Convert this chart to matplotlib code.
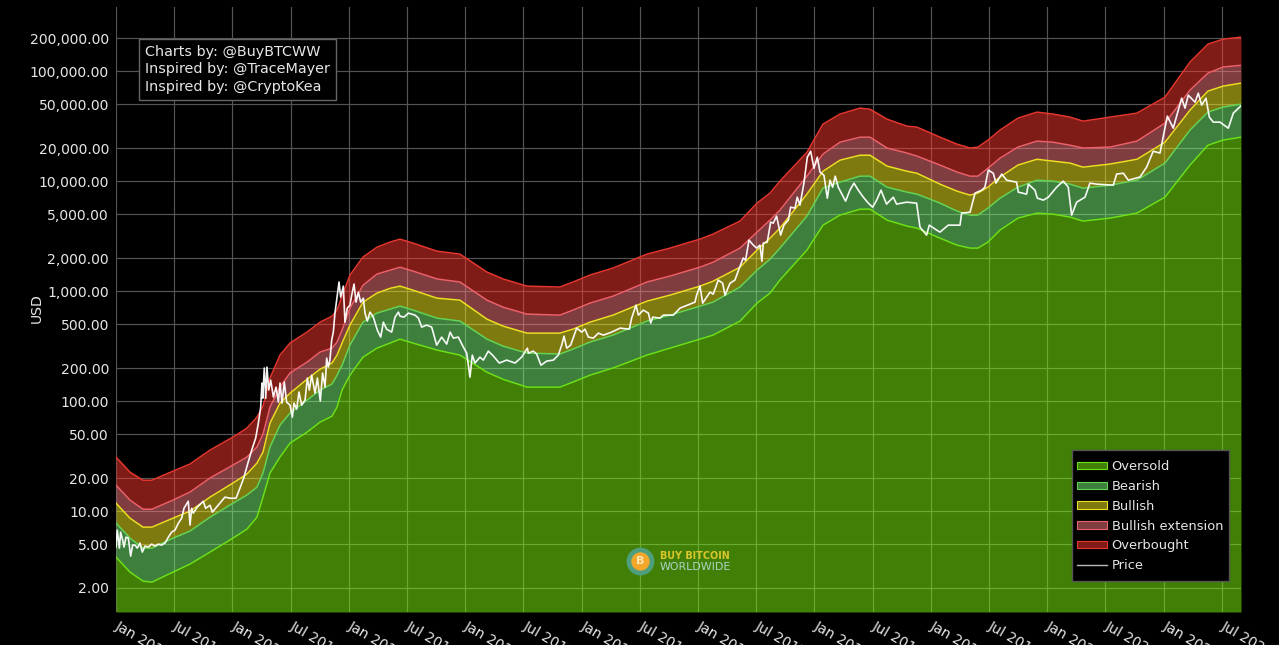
import matplotlib
matplotlib.use('Agg')
import matplotlib.pyplot as plt
from matplotlib.patches import Patch, Rectangle
from matplotlib.lines import Line2D
from matplotlib.transforms import ScaledTranslation

# band curves (USD)
band_years = [2012.0, 2012.12, 2012.232, 2012.309, 2012.49, 2012.636, 2012.808, 2013.005, 2013.125, 2013.211, 2013.263, 2013.323, 2013.409, 2013.495, 2013.641, 2013.753, 2013.856, 2013.899, 2013.942, 2014.01, 2014.122, 2014.242, 2014.354, 2014.44, 2014.552, 2014.758, 2014.955, 2015.187, 2015.325, 2015.531, 2015.814, 2015.926, 2016.072, 2016.27, 2016.562, 2016.759, 2017.017, 2017.129, 2017.361, 2017.507, 2017.619, 2017.704, 2017.936, 2018.074, 2018.22, 2018.392, 2018.478, 2018.624, 2018.796, 2018.881, 2019.079, 2019.225, 2019.337, 2019.405, 2019.491, 2019.595, 2019.749, 2019.912, 2020.05, 2020.196, 2020.308, 2020.54, 2020.771, 2021.012, 2021.227, 2021.381, 2021.51, 2021.665]
overbought = [31.0, 22.6, 19.1, 19.1, 23.1, 26.8, 35.9, 47.1, 56.8, 71.5, 90, 162, 262, 337, 424, 522, 592, 672, 900, 1400, 2040, 2510, 2790, 2970, 2730, 2310, 2170, 1490, 1290, 1110, 1090, 1210, 1400, 1620, 2170, 2460, 2970, 3300, 4330, 6310, 7780, 10000, 18300, 33000, 40700, 46100, 45100, 36600, 31600, 31000, 25100, 21700, 20000, 20400, 23600, 29100, 37400, 42400, 40700, 38200, 35100, 38200, 41500, 58000, 121000, 176000, 195000, 204000]
extension = [17.2, 12.6, 10.4, 10.4, 12.6, 14.9, 20.0, 26.2, 31.0, 38.2, 50.1, 88.1, 134, 180, 226, 279, 303, 344, 442, 700, 1130, 1430, 1550, 1650, 1520, 1290, 1210, 828, 715, 618, 605, 672, 778, 900, 1210, 1370, 1650, 1830, 2460, 3440, 4420, 5450, 11100, 17600, 22600, 25100, 25100, 20000, 18000, 16900, 14000, 12100, 11100, 11100, 13100, 16200, 20400, 23100, 22600, 21200, 20000, 20400, 23100, 33700, 67200, 95900, 109000, 113000]
bullish = [11.8, 8.63, 7.15, 7.15, 8.63, 10.0, 13.4, 18.0, 21.7, 27.3, 34.4, 63.1, 95.9, 118, 158, 195, 222, 262, 337, 491, 794, 959, 1060, 1110, 1020, 863, 828, 556, 481, 415, 415, 451, 522, 605, 811, 919, 1110, 1230, 1650, 2360, 3030, 3740, 7620, 12300, 15500, 17200, 17200, 13700, 12300, 11800, 9390, 8110, 7460, 7780, 8810, 10900, 14000, 15800, 15200, 14600, 13400, 14300, 15800, 22600, 44200, 65800, 73000, 77800]
bearish = [7.78, 5.68, 4.61, 4.61, 5.68, 6.58, 8.81, 11.8, 14.0, 16.5, 22.2, 38.2, 60.5, 77.8, 102, 126, 143, 172, 212, 323, 522, 631, 686, 730, 672, 568, 534, 366, 316, 273, 268, 297, 344, 398, 534, 605, 730, 794, 1090, 1550, 1950, 2460, 4810, 8630, 9790, 11100, 11100, 8810, 7940, 7620, 6310, 5340, 4910, 4910, 5680, 7000, 8810, 10200, 10000, 9390, 8630, 9190, 10200, 14600, 29100, 42400, 47100, 50100]
oversold = [3.82, 2.79, 2.31, 2.26, 2.79, 3.30, 4.24, 5.68, 6.86, 8.81, 13.4, 22.2, 31.0, 41.5, 52.2, 64.4, 73.0, 88.1, 126, 172, 251, 303, 337, 366, 337, 291, 262, 183, 158, 134, 134, 149, 172, 200, 262, 303, 366, 398, 534, 778, 959, 1260, 2360, 3980, 4910, 5560, 5560, 4420, 3900, 3740, 3030, 2620, 2460, 2460, 2790, 3590, 4610, 5120, 5010, 4710, 4330, 4610, 5120, 7150, 14000, 21200, 23600, 25100]

# price (USD)
price_years = [2012.0, 2012.011, 2012.029, 2012.04, 2012.057, 2012.069, 2012.086, 2012.106, 2012.126, 2012.143, 2012.163, 2012.183, 2012.206, 2012.226, 2012.249, 2012.278, 2012.306, 2012.335, 2012.364, 2012.392, 2012.421, 2012.45, 2012.478, 2012.507, 2012.536, 2012.564, 2012.584, 2012.621, 2012.636, 2012.65, 2012.664, 2012.699, 2012.75, 2012.77, 2012.808, 2012.828, 2012.865, 2012.936, 2012.979, 2013.031, 2013.065, 2013.1, 2013.128, 2013.166, 2013.2, 2013.223, 2013.243, 2013.254, 2013.26, 2013.274, 2013.286, 2013.297, 2013.312, 2013.329, 2013.352, 2013.375, 2013.395, 2013.409, 2013.426, 2013.446, 2013.466, 2013.495, 2013.515, 2013.529, 2013.552, 2013.572, 2013.595, 2013.624, 2013.644, 2013.661, 2013.681, 2013.71, 2013.73, 2013.755, 2013.775, 2013.796, 2013.81, 2013.824, 2013.838, 2013.853, 2013.867, 2013.881, 2013.896, 2013.916, 2013.93, 2013.953, 2013.967, 2013.987, 2014.01, 2014.025, 2014.045, 2014.062, 2014.082, 2014.102, 2014.125, 2014.139, 2014.159, 2014.182, 2014.211, 2014.245, 2014.274, 2014.297, 2014.325, 2014.368, 2014.397, 2014.426,
               2014.44, 2014.474, 2014.512, 2014.569, 2014.598, 2014.626, 2014.669, 2014.712, 2014.755, 2014.798, 2014.841, 2014.87, 2014.898, 2014.941, 2014.984, 2015.013, 2015.041, 2015.061, 2015.084, 2015.127, 2015.156, 2015.199, 2015.242, 2015.293, 2015.356, 2015.428, 2015.485, 2015.534, 2015.543, 2015.585, 2015.614, 2015.651, 2015.7, 2015.757, 2015.8, 2015.829, 2015.849, 2015.872, 2015.906, 2015.958, 2016.001, 2016.029, 2016.058, 2016.101, 2016.144, 2016.187, 2016.258, 2016.33, 2016.41, 2016.43, 2016.467, 2016.488, 2016.53, 2016.574, 2016.594, 2016.611, 2016.674, 2016.702, 2016.788,
               2016.845, 2016.931, 2016.974, 2016.988, 2017.017, 2017.04, 2017.074, 2017.103, 2017.131, 2017.174, 2017.212, 2017.232, 2017.275, 2017.317, 2017.355, 2017.389, 2017.409, 2017.438, 2017.475, 2017.504, 2017.532, 2017.549, 2017.561, 2017.595, 2017.624, 2017.647, 2017.675, 2017.71, 2017.738, 2017.776, 2017.796, 2017.833, 2017.853, 2017.876, 2017.91, 2017.939, 2017.968, 2017.996, 2018.025, 2018.048, 2018.082, 2018.111, 2018.134, 2018.157, 2018.179, 2018.205, 2018.268, 2018.305, 2018.34, 2018.377, 2018.42, 2018.463, 2018.5, 2018.535, 2018.572, 2018.62, 2018.678, 2018.706, 2018.792, 2018.878, 2018.907, 2018.964, 2018.987, 2019.05, 2019.079,
               2019.15, 2019.251, 2019.265, 2019.337, 2019.38, 2019.437, 2019.465, 2019.494, 2019.537, 2019.56, 2019.609, 2019.652, 2019.737, 2019.752, 2019.823, 2019.838, 2019.895, 2019.915, 2019.967, 2020.01, 2020.081, 2020.138, 2020.181, 2020.21, 2020.253, 2020.325, 2020.367, 2020.425, 2020.568, 2020.597, 2020.654, 2020.697, 2020.797, 2020.854, 2020.911, 2020.969, 2021.032, 2021.083, 2021.155, 2021.184, 2021.212, 2021.27, 2021.298, 2021.327, 2021.364, 2021.393, 2021.427, 2021.484, 2021.556, 2021.599, 2021.662]
price = [4.71, 6.72, 4.61, 6.44, 5.45, 4.71, 5.80, 5.68, 3.90, 4.91, 4.91, 4.61, 5.12, 4.24, 4.81, 4.71, 5.01, 4.81, 5.01, 4.91, 5.12, 5.80, 6.44, 6.72, 7.78, 8.63, 10.6, 12.3, 7.46, 10.6, 9.59, 10.9, 12.3, 10.6, 11.3, 9.79, 10.9, 13.4, 13.1, 13.1, 16.2, 20.4, 26.2, 35.9, 46.1, 63.1, 88.1, 146, 106, 200, 106, 204, 126, 155, 109, 134, 97.9, 146, 95.9, 149, 97.9, 91.9, 71.5, 95.9, 84.5, 121, 91.9, 102, 162, 126, 172, 118, 162, 100, 180, 134, 246, 204, 236, 359, 424, 631, 828, 1210, 881, 1110, 522, 700, 746, 919, 1160, 794, 978, 794, 863, 631, 534, 644, 580, 442, 382, 522, 451, 424, 580, 644,
         592, 580, 631, 605, 568, 471, 491, 471, 323, 382, 330, 424, 374, 382, 310, 273, 165, 262, 222, 251, 236, 285, 257, 222, 236, 222, 251, 303, 273, 285, 268, 212, 231, 236, 262, 323, 390, 303, 323, 461, 424, 451, 382, 374, 415, 398, 424, 461, 451, 568, 746, 605, 672, 631, 512, 580, 568, 605, 605,
         700, 762, 794, 919, 1110, 778, 881, 978, 939, 1260, 1180, 919, 1180, 1260, 1620, 2000, 1910, 2910, 2620, 2460, 2620, 1870, 2730, 2790, 4240, 4150, 4810, 3230, 3980, 4420, 5800, 5680, 7150, 6050, 9590, 16500, 18700, 13100, 16500, 12100, 11300, 7000, 10200, 8810, 11100, 8810, 6580, 8280, 9590, 8280, 7150, 6310, 5800, 6720, 8280, 6180, 7150, 6180, 6440, 6310, 3820, 3230, 3980, 3590, 3440,
         3980, 3980, 5120, 5220, 7780, 8280, 8810, 12600, 11800, 9590, 11600, 10200, 9790, 7940, 7620, 9390, 8280, 7000, 6720, 7150, 8810, 10000, 8810, 4910, 6440, 7150, 9590, 9390, 9190, 11600, 11800, 10200, 10900, 13400, 18700, 18000, 39000, 30300, 56800, 46100, 60500, 52200, 63100, 49100, 56800, 38200, 34400, 34400, 30300, 41500, 48100]

y_ticks = [2, 5, 10, 20, 50, 100, 200, 500, 1000, 2000, 5000, 10000, 20000, 50000, 100000, 200000]
x_ticks = [2012 + i * 0.5 for i in range(20)]
x_labels = ['Jan 2012', 'Jul 2012', 'Jan 2013', 'Jul 2013', 'Jan 2014', 'Jul 2014', 'Jan 2015', 'Jul 2015', 'Jan 2016', 'Jul 2016',
            'Jan 2017', 'Jul 2017', 'Jan 2018', 'Jul 2018', 'Jan 2019', 'Jul 2019', 'Jan 2020', 'Jul 2020', 'Jan 2021', 'Jul 2021']

Y_MIN = 1.21
Y_MAX = 383000
TEXT = '#e6e6e6'

fig = plt.figure(figsize=(12.79, 6.45), dpi=100, facecolor='black')
ax = fig.add_axes([116 / 1279, 33 / 645, 1125 / 1279, 605 / 645], facecolor='black')
ax.set_yscale('log')
ax.set_xlim(2012, 2021.665)
ax.set_ylim(Y_MIN, Y_MAX)

# fills are half transparent so the grid shows through
bands = [
    ('Oversold', oversold, [Y_MIN] * len(oversold), (0.51, 1.0, 0.05), (0.42, 0.88, 0.08)),
    ('Bearish', bearish, oversold, (0.49, 1.0, 0.48), (0.38, 0.83, 0.34)),
    ('Bullish', bullish, bearish, (1.0, 0.96, 0.13), (0.92, 0.88, 0.12)),
    ('Bullish extension', extension, bullish, (1.0, 0.48, 0.50), (0.92, 0.38, 0.42)),
    ('Overbought', overbought, extension, (1.0, 0.22, 0.18), (0.90, 0.21, 0.18)),
]
handles = []
for name, top, low, fill, edge in bands:
    ax.fill_between(band_years, low, top, color=fill, alpha=0.5, linewidth=0, zorder=2)
    ax.plot(band_years, top, color=edge, linewidth=1.1, zorder=3)
    handles.append(Patch(facecolor=fill + (0.5,), edgecolor=edge, linewidth=0.8, label=name))
ax.plot(price_years, price, color='white', linewidth=1.2, alpha=0.95, zorder=4)
handles.append(Line2D([0], [0], color='#bbbbbb', linewidth=1.0, label='Price'))

ax.set_yticks(y_ticks)
ax.set_yticklabels([f'{v:,.2f}' for v in y_ticks])
ax.minorticks_off()
ax.set_xticks(x_ticks)
ax.set_xticklabels(x_labels, rotation=-30, ha='left', va='top', rotation_mode='anchor')
ax.tick_params(length=0, colors=TEXT, labelsize=10.1)
ax.tick_params(axis='y', pad=5)
ax.tick_params(axis='x', pad=5)
shift = ScaledTranslation(4 / 100, 0, fig.dpi_scale_trans)
for label in ax.get_xticklabels():
    label.set_transform(label.get_transform() + shift)
ax.grid(True, color='#555555', linewidth=0.85, zorder=1)
ax.set_axisbelow(True)
for s in ax.spines.values():
    s.set_visible(False)
ax.set_ylabel('USD', color=TEXT, fontsize=10.1)
ax.yaxis.set_label_coords(-72 / 1125, 0.503)

fig.text(145 / 1279, 1 - 45 / 645, 'Charts by: @BuyBTCWW\nInspired by: @TraceMayer\nInspired by: @CryptoKea',
         color=TEXT, fontsize=10.35, va='top', ha='left', linespacing=1.3,
         bbox=dict(boxstyle='square,pad=0.42', facecolor='black', edgecolor='#666666', linewidth=1), zorder=10)

# legend box is drawn apart, its padding differs across and down
ax.add_patch(Rectangle((1072 / 1279, 1 - 581 / 645), 157 / 1279, 131 / 645, transform=fig.transFigure,
                       facecolor='black', edgecolor='#555555', linewidth=1, clip_on=False, zorder=9))
leg = ax.legend(handles=handles, loc='lower right', bbox_to_anchor=(1229 / 1279, 1 - 578 / 645),
                bbox_transform=fig.transFigure, fontsize=9.4, frameon=False, labelcolor=TEXT,
                borderaxespad=0, borderpad=0.45, labelspacing=0.52, handlelength=2.3, handleheight=0.5,
                handletextpad=0.38)
leg.set_zorder(10)

# logo
logo_x = (640 - 116) / 1125
logo_y = (612 - 561) / 605
ax.scatter([logo_x], [logo_y], s=400, color='#4f9f7f', transform=ax.transAxes, zorder=6, linewidths=0)
ax.scatter([logo_x], [logo_y], s=175, color='#f2a62a', transform=ax.transAxes, zorder=7, linewidths=0)
ax.text(logo_x, logo_y, 'B', color='#fbe6b0', fontsize=8, fontweight='bold', ha='center', va='center',
        transform=ax.transAxes, zorder=8)
ax.text((660 - 116) / 1125, (612 - 556) / 605, 'BUY BITCOIN', color='#d8c62c', fontsize=6.9, fontweight='bold',
        ha='left', va='center', transform=ax.transAxes, zorder=6)
ax.text((660 - 116) / 1125, (612 - 567) / 605, 'WORLDWIDE', color='#a9d6c8', fontsize=7.9, ha='left', va='center',
        transform=ax.transAxes, zorder=6)

fig.savefig('out.png', dpi=100, facecolor='black')
